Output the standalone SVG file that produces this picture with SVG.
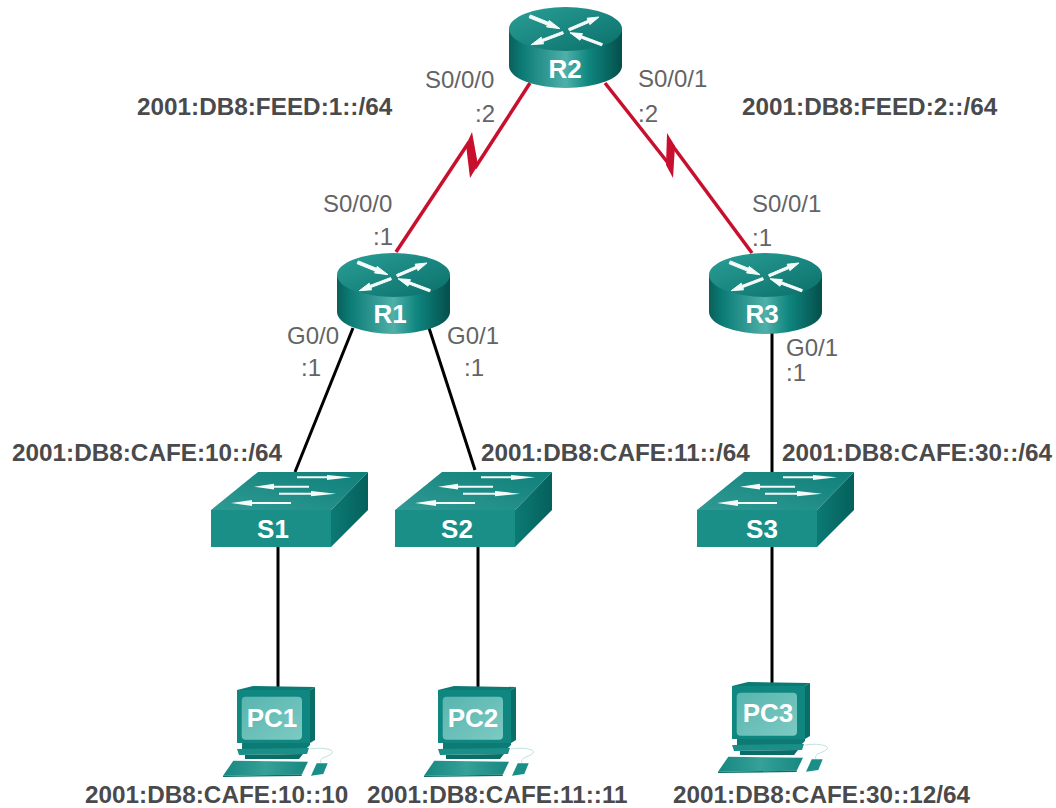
<svg xmlns="http://www.w3.org/2000/svg" xmlns:xlink="http://www.w3.org/1999/xlink" width="1056" height="808" viewBox="0 0 1056 808">
<style>
text{font-family:"Liberation Sans",Arial,sans-serif}
.net{font-size:24.300px;font-weight:700;fill:#4a4a4c}
.if{font-size:24px;fill:#636466}
.nm{font-weight:700;fill:#fff;text-anchor:middle;font-size:26px}
.eth{fill:none;stroke:#000;stroke-width:3}
.ser{fill:none;stroke:#c8102e;stroke-width:3.500}
.bolt{fill:#c8102e}
.ar{fill:#f4fbfa}
.rar{fill:#f4fbfa;stroke:#f4fbfa;stroke-width:1;stroke-linejoin:round}
</style>
<defs>
<linearGradient id="rs" x1="0" x2="1" y1="0" y2="0"><stop offset="0" stop-color="#0a5f5a"/><stop offset=".12" stop-color="#0c7c76"/><stop offset=".5" stop-color="#4fb0a9"/><stop offset=".7" stop-color="#0f8780"/><stop offset="1" stop-color="#044f4b"/></linearGradient>
<linearGradient id="rt" x1="0" x2="1" y1="0" y2="1"><stop offset="0" stop-color="#2a9f97"/><stop offset="1" stop-color="#0a6f69"/></linearGradient>
<linearGradient id="st" x1="0" x2="1" y1="1" y2="0"><stop offset="0" stop-color="#2f9a93"/><stop offset="1" stop-color="#0f7f79"/></linearGradient>
<linearGradient id="ss" x1="0" x2="1" y1="0" y2="0"><stop offset="0" stop-color="#0c7a74"/><stop offset="1" stop-color="#05605b"/></linearGradient>
<linearGradient id="kb" x1="0" x2="1" y1="0" y2="0"><stop offset="0" stop-color="#17877f"/><stop offset=".5" stop-color="#35a199"/><stop offset="1" stop-color="#17877f"/></linearGradient>
<linearGradient id="sc" x1="0" x2="1" y1="0" y2="1"><stop offset="0" stop-color="#58b5ae"/><stop offset="1" stop-color="#7ccac3"/></linearGradient>
<symbol id="router" overflow="visible">
<path d="M0,22V59A56.500,22 0 0 0 113,59V22Z" fill="url(#rs)"/>
<ellipse cx="56.500" cy="22" rx="56.500" ry="22" fill="url(#rt)"/>
<polygon class="rar" points="21.300,7.900 39.500,15.300 40.200,13.500 51,21.700 37.600,19.900 38.300,18.100 20.100,10.700"/>
<polygon class="rar" points="60.500,23.800 80,15.500 80.900,17.600 90,10 78.100,11.200 79,13.300 59.500,21.600"/>
<polygon class="rar" points="54.400,26.800 33.800,34.600 34.600,36.800 22.300,37.700 32.200,30.200 33,32.400 53.600,24.600"/>
<polygon class="rar" points="92.600,38.800 71.800,31 71,33.200 61,25.700 73.400,26.600 72.600,28.800 93.400,36.600"/>
</symbol>
<symbol id="switch" overflow="visible">
<polygon points="0,38 47,0 157,0 120,38" fill="url(#st)"/>
<polygon points="120,38 157,0 157,38 120,75" fill="url(#ss)"/>
<rect y="38" width="120" height="37" fill="#1a8f88"/>
<polygon class="ar" points="86,4.300 116,4.300 116,3 140,5.300 116,8 116,6.300 86,6.300"/>
<polygon class="ar" points="43,14.700 63,11.800 63,13.700 98,13.700 98,15.700 63,15.700 63,17.500"/>
<polygon class="ar" points="68,20.700 100,20.700 100,19 125,21.700 100,24.300 100,22.700 68,22.700"/>
<polygon class="ar" points="20,31 41,28 41,30 80,30 80,32 41,32 41,34"/>
</symbol>
<symbol id="pc" overflow="visible">
<path d="M73,62Q85,60 94,63Q99,66 88,70Q82,72 84,76" fill="none" stroke="#bfe3e0" stroke-width="1"/>
<polygon points="0,3 16,-1 78,0 73,3" fill="#0c7a74"/>
<rect y="3" width="73" height="53" fill="#0f8780"/>
<polygon points="73,3 78,0 78,53 73,56" fill="#0a6e68"/>
<rect x="4.700" y="9.700" width="60.300" height="43" rx="4" fill="url(#sc)"/>
<polygon points="5,56 73,56 73,58 69,62 5,62" fill="#0d7a74"/>
<polygon points="0,62 72,61 70,67 2,68" fill="#1a8f88"/>
<polygon points="8,68 66,67 62,72 8,72" fill="#0a6e68"/>
<polygon points="-14,88.700 -3.700,73.700 71,74.700 64.700,87.700" fill="url(#kb)"/>
<polygon points="-14,88.700 64.700,87.700 64.700,89 -14,90" fill="#0a6e68"/>
<polygon points="74,88.700 79.700,76.300 90.700,76.300 86.300,87" fill="#1a8f88"/>
</symbol>
</defs>
<g id="connectors">
<path class="ser" d="M530,83L475,168"/>
<path class="ser" d="M396,252L469,142"/>
<polygon class="bolt" points="472,132 466,145 470,178 478,165"/>
<path class="ser" d="M605,83L672,168"/>
<path class="ser" d="M752,253L672,145"/>
<polygon class="bolt" points="667,133 675,146 673,178 666,165"/>
<line class="eth" x1="353" y1="328" x2="295" y2="472"/>
<line class="eth" x1="429" y1="328" x2="475" y2="470"/>
<line class="eth" x1="772" y1="333" x2="772" y2="472"/>
<line class="eth" x1="278" y1="547" x2="278" y2="687"/>
<line class="eth" x1="478" y1="547" x2="478" y2="687"/>
<line class="eth" x1="772" y1="547" x2="772" y2="683"/>
</g>
<g id="R2"><use href="#router" x="509" y="7"/><text class="nm" x="565" y="78">R2</text></g>
<g id="R1"><use href="#router" x="337" y="253"/><text class="nm" x="390" y="323">R1</text></g>
<g id="R3"><use href="#router" x="709" y="253"/><text class="nm" x="762" y="323">R3</text></g>
<g id="S1"><use href="#switch" x="211" y="472"/><text class="nm" x="273" y="538">S1</text></g>
<g id="S2"><use href="#switch" x="395" y="472"/><text class="nm" x="457" y="538">S2</text></g>
<g id="S3"><use href="#switch" x="697" y="472"/><text class="nm" x="762" y="538">S3</text></g>
<g id="PC1"><use href="#pc" x="237" y="687"/><text class="nm" x="272" y="727">PC1</text></g>
<g id="PC2"><use href="#pc" x="438" y="687"/><text class="nm" x="473" y="727">PC2</text></g>
<g id="PC3"><use href="#pc" x="732" y="683"/><text class="nm" x="768" y="722">PC3</text></g>
<g id="labels">
<text class="net" x="137" y="115">2001:DB8:FEED:1::/64</text>
<text class="net" x="742" y="115">2001:DB8:FEED:2::/64</text>
<text class="net" x="12" y="461">2001:DB8:CAFE:10::/64</text>
<text class="net" x="481" y="461">2001:DB8:CAFE:11::/64</text>
<text class="net" x="782" y="461">2001:DB8:CAFE:30::/64</text>
<text class="net" x="85" y="803">2001:DB8:CAFE:10::10</text>
<text class="net" x="367" y="803">2001:DB8:CAFE:11::11</text>
<text class="net" x="673" y="803">2001:DB8:CAFE:30::12/64</text>
<text class="if" x="425" y="88">S0/0/0</text>
<text class="if" x="475" y="122">:2</text>
<text class="if" x="638" y="87">S0/0/1</text>
<text class="if" x="638" y="122">:2</text>
<text class="if" x="323" y="212">S0/0/0</text>
<text class="if" x="373" y="245">:1</text>
<text class="if" x="752" y="212">S0/0/1</text>
<text class="if" x="752" y="246">:1</text>
<text class="if" x="287" y="344">G0/0</text>
<text class="if" x="301" y="376">:1</text>
<text class="if" x="447" y="344">G0/1</text>
<text class="if" x="464" y="376">:1</text>
<text class="if" x="786" y="356">G0/1</text>
<text class="if" x="786" y="381">:1</text>
</g>
</svg>
